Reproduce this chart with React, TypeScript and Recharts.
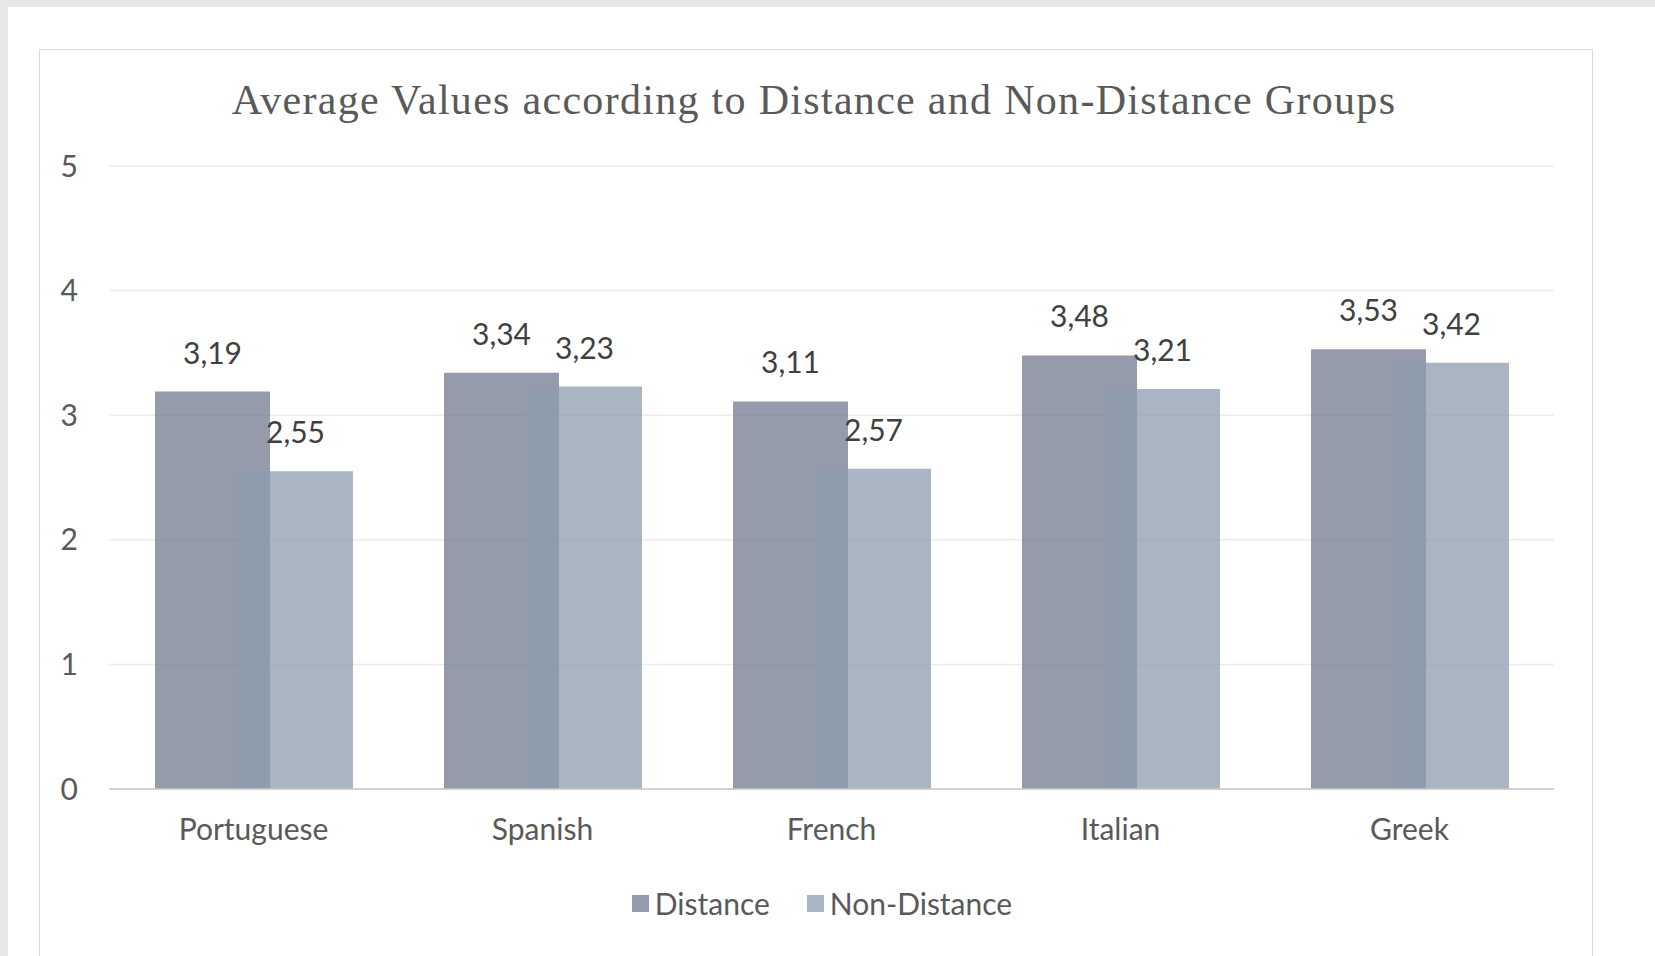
import React from 'react';
import { BarChart, Bar, XAxis, YAxis, CartesianGrid, LabelList, Legend } from 'recharts';

const categories = ['Portuguese', 'Spanish', 'French', 'Italian', 'Greek'];
const distanceValues = [3.19, 3.34, 3.11, 3.48, 3.53];
const nonDistanceValues = [2.55, 3.23, 2.57, 3.21, 3.42];
const yTicks = [0, 1, 2, 3, 4, 5];
const seriesNames = ['Distance', 'Non-Distance'];

const data = categories.map((c, i) => ({
  name: c,
  distance: distanceValues[i],
  nonDistance: nonDistanceValues[i],
}));

const SANS = 'Lato, "Noto Sans", sans-serif';
const FS = 30;
const fmt = (v: any) => Number(v).toFixed(2).replace('.', ',');

const legendColors = ['#959BAB', '#A9B5C2'];

const LegendContent = () => (
  <div style={{ display: 'flex', justifyContent: 'center', alignItems: 'center', fontFamily: SANS, fontSize: FS, color: '#595959' }}>
    {seriesNames.map((n, i) => (
      <div key={n} style={{ display: 'flex', alignItems: 'center', marginRight: i === 0 ? 37 : 0 }}>
        <div style={{ width: 17, height: 17, background: legendColors[i], marginRight: 6 }} />
        <span>{n}</span>
      </div>
    ))}
  </div>
);

export default function App() {
  return (
    <div style={{ position: 'absolute', left: 0, top: 0, width: 1655, height: 956, overflow: 'hidden', background: '#e7e7e7' }}>
      <div style={{ position: 'absolute', left: 8, top: 7, width: 1647, height: 949, background: '#ffffff' }} />
      <div style={{ position: 'absolute', left: 39, top: 49, width: 1554, height: 1000, border: '1px solid #d9d9d9', boxSizing: 'border-box' }} />
      <div style={{ position: 'absolute', left: 0, top: 75, width: 1628, textAlign: 'center', fontFamily: '"Liberation Serif", serif', fontSize: 42, letterSpacing: 1.3, color: '#595959', lineHeight: '50px' }}>
        Average Values according to Distance and Non-Distance Groups
      </div>
      <div style={{ position: 'absolute', left: 0, top: 0 }}>
        <BarChart
          width={1655}
          height={956}
          data={data}
          margin={{ top: 166, right: 101, bottom: 137, left: 49 }}
          barSize={115}
          barGap={-32}
        >
          <CartesianGrid vertical={false} stroke="#ececec" strokeWidth={1.5} />
          <XAxis
            dataKey="name"
            height={30}
            axisLine={{ stroke: '#c9c9c9', strokeWidth: 1.5 }}
            tickLine={false}
            tickSize={0}
            tickMargin={30}
            tick={{ fontFamily: SANS, fontSize: FS, fill: '#595959' }}
          />
          <YAxis
            width={60}
            domain={[0, 5]}
            ticks={yTicks}
            axisLine={false}
            tickLine={false}
            tickSize={0}
            tickMargin={31}
            tick={{ fontFamily: SANS, fontSize: FS, fill: '#595959' }}
          />
          <Legend
            verticalAlign="middle"
            align="center"
            wrapperStyle={{ top: 885, left: 0, width: 1644 }}
            content={<LegendContent />}
          />
          <Bar dataKey="distance" name="Distance" fill="rgb(114,122,143)" fillOpacity={0.75} isAnimationActive={false}>
            <LabelList dataKey="distance" position="top" offset={28} formatter={fmt} style={{ fontFamily: SANS, fontSize: FS, fill: '#404040' }} />
          </Bar>
          <Bar dataKey="nonDistance" name="Non-Distance" fill="rgb(140,156,174)" fillOpacity={0.75} isAnimationActive={false}>
            <LabelList dataKey="nonDistance" position="top" offset={28} formatter={fmt} style={{ fontFamily: SANS, fontSize: FS, fill: '#404040' }} />
          </Bar>
        </BarChart>
      </div>
    </div>
  );
}
